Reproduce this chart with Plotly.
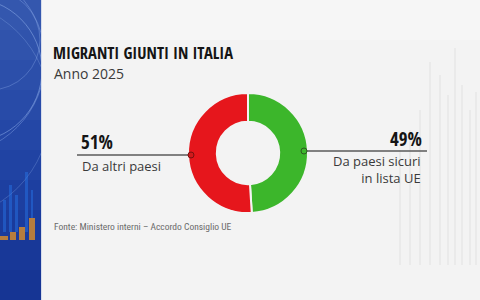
import plotly.graph_objects as go

W, H = 480, 300

title = "MIGRANTI GIUNTI IN ITALIA"
subtitle = "Anno 2025"
# slices listed clockwise from 12 o'clock: right slice first
labels = ["Da paesi sicuri<br>in lista UE", "Da altri paesi"]
values = [49, 51]
colors = ["#3CB62B", "#E6161C"]
source = "Fonte: Ministero interni – Accordo Consiglio UE"

def px(x):
    return x / W

def py(y):
    return 1 - y / H

fig = go.Figure()

cx, cy, d = 248, 153, 120
fig.add_trace(go.Pie(
    values=values,
    labels=labels,
    marker=dict(colors=colors, line=dict(color="#F3F3F3", width=2)),
    hole=0.52,
    sort=False,
    direction="clockwise",
    rotation=0,
    textinfo="none",
    hoverinfo="label+percent",
    showlegend=False,
    domain=dict(x=[px(cx - d / 2), px(cx + d / 2)], y=[py(cy + d / 2), py(cy - d / 2)]),
))

shapes = []
def rect(x0, x1, y0, y1, fill, layer="below"):
    shapes.append(dict(type="rect", xref="paper", yref="paper", x0=px(x0), x1=px(x1),
                       y0=py(y1), y1=py(y0), fillcolor=fill, line=dict(width=0), layer=layer))

# left blue strip, vertical gradient bands
bands = ["#3457AE", "#3053AC", "#2C4FAA", "#284BA8", "#2447A6", "#2043A3", "#1D3FA0", "#1A3B9C", "#183898", "#163594"]
for i, c in enumerate(bands):
    rect(0, 42, i * 30, (i + 1) * 30, c)
# decorative arcs in the strip (covered by panel afterwards)
for (ccx, ccy, r, op) in [(-30, 70, 72, 0.45), (-50, 60, 95, 0.35), (-10, 40, 50, 0.3), (-60, 110, 110, 0.25)]:
    shapes.append(dict(type="circle", xref="paper", yref="paper",
                       x0=px(ccx - r), x1=px(ccx + r), y0=py(ccy + r), y1=py(ccy - r),
                       line=dict(color="rgba(160,190,245,%.2f)" % op, width=1), layer="below"))
# decorative bars in the strip
for x0, x1, top in [(3, 6, 200), (9, 12, 185), (15, 18, 195), (25, 28, 172), (31, 33, 190)]:
    rect(x0, x1, top, 232, "rgba(40,120,235,0.45)")
for x0, x1, top in [(0, 8, 236), (10, 16, 232), (19, 25, 227), (29, 35, 218)]:
    rect(x0, x1, top, 240, "#B67D3E")

# light panel
rect(41, 480, 0, 300, "#F3F3F3")
rect(41, 480, 0, 40, "#F6F6F6")
rect(41, 42, 0, 300, "#D6DCEB")
# faint decorative bars on the right
for x, top in [(430, 62), (440, 75), (448, 95), (455, 48), (462, 85), (470, 110), (476, 92), (420, 110), (410, 130), (400, 150)]:
    shapes.append(dict(type="line", xref="paper", yref="paper", x0=px(x), x1=px(x),
                       y0=py(265), y1=py(top), line=dict(color="rgba(205,205,210,0.35)", width=1.5), layer="below"))

# leader lines
shapes.append(dict(type="line", xref="paper", yref="paper", x0=px(77), x1=px(191), y0=py(155), y1=py(155),
                   line=dict(color="#5A5A5A", width=1.5)))
shapes.append(dict(type="line", xref="paper", yref="paper", x0=px(304), x1=px(427), y0=py(151), y1=py(151),
                   line=dict(color="#5A5A5A", width=1.5)))
# dots
for (x, y), col, edge in [((191, 155), "#D11A1C", "#7A1010"), ((304, 151), "#3DB72C", "#2E5A22")]:
    shapes.append(dict(type="circle", xref="paper", yref="paper", x0=px(x - 3), x1=px(x + 3),
                       y0=py(y + 3), y1=py(y - 3), fillcolor=col, line=dict(color=edge, width=1)))

COND = "Open Sans Condensed, Roboto Condensed, sans-serif"
ann = []
def text(x, y, s, size, color, family, xanchor="left"):
    ann.append(dict(xref="paper", yref="paper", x=px(x), y=py(y), text=s, showarrow=False,
                    xanchor=xanchor, yanchor="middle", align=xanchor,
                    font=dict(size=size, color=color, family=family)))

text(51, 52, "<b>" + title + "</b>", 16.5, "#151515", COND)
text(52, 73, subtitle, 14, "#3A3A3A", "Open Sans")
text(79, 142, "<b>%d%%</b>" % values[1], 19, "#151515", COND)
text(80, 166, labels[1], 13, "#3A3A3A", "Open Sans")
text(424, 139, "<b>%d%%</b>" % values[0], 19, "#151515", COND, xanchor="right")
text(423, 169, labels[0], 13, "#3A3A3A", "Open Sans", xanchor="right")
text(52, 226, source, 9.5, "#6A6A6A", "Roboto Condensed, Roboto")

fig.update_layout(
    width=W, height=H,
    margin=dict(l=0, r=0, t=0, b=0),
    paper_bgcolor="#F3F3F3",
    plot_bgcolor="#F3F3F3",
    shapes=shapes,
    annotations=ann,
)

fig.write_html("out.html")
